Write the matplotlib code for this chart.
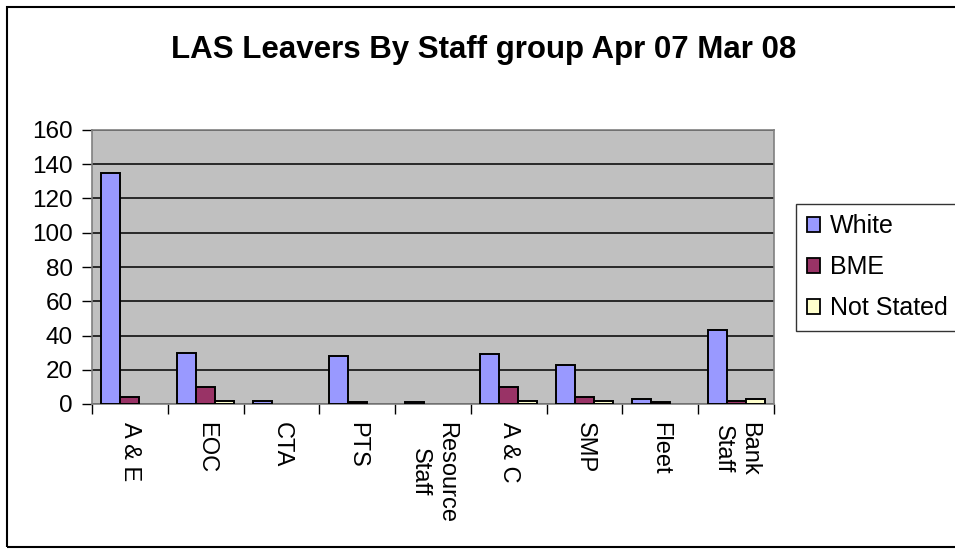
import matplotlib
matplotlib.use("Agg")
import matplotlib.pyplot as plt
from matplotlib.patches import Rectangle, Patch
import numpy as np

plt.rcParams['font.family'] = ['Liberation Sans', 'DejaVu Sans']

categories = ["A & E", "EOC", "CTA", "PTS", "Resource\nStaff", "A & C", "SMP", "Fleet", "Bank\nStaff"]
white = [135, 30, 2, 28, 1, 29, 23, 3, 43]
bme = [4, 10, 0, 1, 0, 10, 4, 1, 2]
not_stated = [0, 2, 0, 0, 0, 2, 2, 0, 3]
series_names = ["White", "BME", "Not Stated"]
series_colors = ["#9999FF", "#993366", "#FFFFCC"]
yticks = [0, 20, 40, 60, 80, 100, 120, 140, 160]

W, H = 955, 551
fig = plt.figure(figsize=(W / 100, H / 100), dpi=100)

# chart area border
fig.patches.append(Rectangle((7 / W, 4 / H), (962 - 7) / W, (544 - 4) / H,
                             transform=fig.transFigure, fill=False,
                             edgecolor='black', linewidth=1.5, clip_on=False))

ax = fig.add_axes([92 / W, (H - 404) / H, (774 - 92) / W, (404 - 130) / H])
ax.set_facecolor('#C0C0C0')

x = np.arange(len(categories))
bw = 0.25
for i, (vals, name, col) in enumerate(zip([white, bme, not_stated], series_names, series_colors)):
    vals = np.asarray(vals, dtype=float)
    nz = vals > 0
    ax.bar(x[nz] + (i - 1) * bw, vals[nz], width=bw, color=col, edgecolor='black',
           linewidth=1.4, label=name, zorder=3)

ax.set_xlim(-0.5, len(categories) - 0.5)
ax.set_ylim(0, 160)
ax.set_yticks(yticks)
ax.set_yticklabels([str(v) for v in yticks], fontsize=17.5)
ax.yaxis.grid(True, color='black', linewidth=1.1, zorder=1)
ax.set_axisbelow(True)

ax.set_xticks(x)
ax.set_xticklabels(categories, rotation=270, fontsize=17, va='top', ha='center',
                   multialignment='center', linespacing=1.25)
ax.set_xticks(np.arange(len(categories) + 1) - 0.5, minor=True)
ax.tick_params(axis='x', which='major', length=0, pad=13)
ax.tick_params(axis='x', which='minor', length=7, width=1, color='black')
ax.tick_params(axis='y', length=7, width=1, pad=7, color='black')

for s in ['top', 'right', 'left', 'bottom']:
    ax.spines[s].set_color('#808080')
    ax.spines[s].set_linewidth(1.2)

fig.text(484 / W, 1 - 50 / H, "LAS Leavers By Staff group Apr 07 Mar 08",
         ha='center', va='center', fontsize=22.5, fontweight='bold')

handles = [Patch(facecolor=c, edgecolor='black', linewidth=1.3, label=n)
           for n, c in zip(series_names, series_colors)]
leg = fig.legend(handles=handles, loc='upper left',
                 bbox_to_anchor=(796 / W, 1 - 204 / H), fontsize=18,
                 frameon=True, fancybox=False, handlelength=0.55, handleheight=0.55,
                 handletextpad=0.4, labelspacing=0.68, borderpad=0.42,
                 borderaxespad=0)
leg.get_frame().set_edgecolor('black')
leg.get_frame().set_linewidth(1.0)

fig.savefig("out.png", dpi=100)
